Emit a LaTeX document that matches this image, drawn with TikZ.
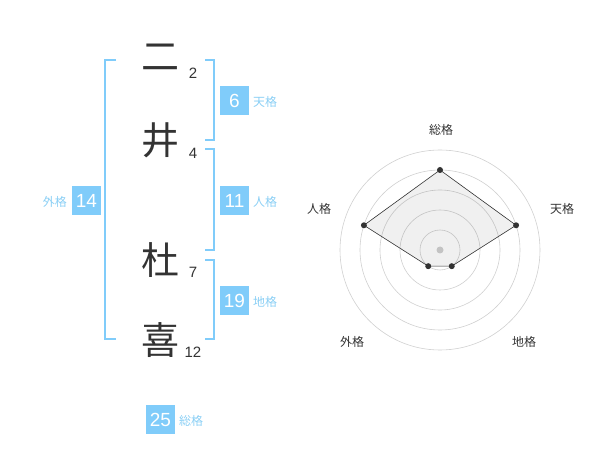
\documentclass[tikz,border=0pt]{standalone}
\usepackage{fontspec}
\setmainfont{Liberation Sans}
\newfontfamily\cjk{Noto Sans CJK JP}
\definecolor{boxblue}{HTML}{80CCFA}
\definecolor{lblblue}{HTML}{8ACFF5}
\definecolor{chardark}{HTML}{333333}
\definecolor{ringgray}{HTML}{D0D0D0}
\begin{document}
\begin{tikzpicture}[x=1pt,y=-1pt,
  bigchar/.style={font=\cjk\fontsize{38}{38}\selectfont, text=chardark, inner sep=0pt},
  strokenum/.style={font=\fontsize{15}{15}\selectfont, text=chardark, inner sep=0pt},
  numbox/.style={fill=boxblue, text=white, minimum width=29pt, minimum height=29pt, inner sep=0pt, font=\fontsize{19}{19}\selectfont},
  kaku/.style={font=\cjk\fontsize{12}{12}\selectfont, text=lblblue, inner sep=0pt},
  bracket/.style={draw=boxblue, line width=2pt},
  ring/.style={draw=ringgray, line width=0.6pt},
  radlbl/.style={font=\cjk\fontsize{12}{12}\selectfont, text=chardark, inner sep=0pt},
  dot/.style={circle, fill=chardark, minimum size=6pt, inner sep=0pt}]
\useasboundingbox (0,0) rectangle (600,470);
% characters
\node[bigchar] (c1) at (160,57) {二};
\node[bigchar] (c2) at (160,140) {井};
\node[bigchar] (c3) at (160,260) {杜};
\node[bigchar] (c4) at (160,340) {喜};
\node[strokenum] (n1) at (193,73) {2};
\node[strokenum] (n2) at (193,153) {4};
\node[strokenum] (n3) at (193,272) {7};
\node[strokenum] (n4) at (193,352) {12};
% brackets
\draw[bracket] (116,60) -- (105,60) -- (105,339.5) -- (116,339.5);
\draw[bracket] (205,60) -- (214,60) -- (214,140) -- (205,140);
\draw[bracket] (205,149.5) -- (214,149.5) -- (214,250) -- (205,250);
\draw[bracket] (205,260) -- (214,260) -- (214,339.5) -- (205,339.5);
% boxes
\node[numbox] (b6) at (234.5,100.5) {6};
\node[kaku, anchor=west] (l6) at (253,102) {天格};
\node[numbox] (b11) at (234.5,200.5) {11};
\node[kaku, anchor=west] (l11) at (253,202) {人格};
\node[numbox] (b19) at (234.5,300.5) {19};
\node[kaku, anchor=west] (l19) at (253,302) {地格};
\node[numbox] (b14) at (86.5,200.5) {14};
\node[kaku, anchor=east] (l14) at (67,202) {外格};
\node[numbox] (b25) at (160.5,419.5) {25};
\node[kaku, anchor=west] (l25) at (179,421) {総格};
% radar chart
\coordinate (ctr) at (440,250);
\foreach \r in {20,40,60,80,100} \draw[ring] (ctr) circle[radius=\r];
\fill[ringgray] (ctr) circle[radius=3.5];
\path (ctr) ++(0,-80) coordinate (p1);
\path (ctr) ++({80*cos(18)},{-80*sin(18)}) coordinate (p2);
\path (ctr) ++({20*cos(54)},{20*sin(54)}) coordinate (p3);
\path (ctr) ++({-20*cos(54)},{20*sin(54)}) coordinate (p4);
\path (ctr) ++({-80*cos(18)},{-80*sin(18)}) coordinate (p5);
\filldraw[fill=black, fill opacity=0.06, draw=chardark, line width=0.6pt] (p1) -- (p2) -- (p3) -- (p4) -- (p5) -- cycle;
\foreach \p in {p1,p2,p3,p4,p5} \node[dot] at (\p) {};
\node[radlbl] (r1) at (441,130) {総格};
\node[radlbl] (r2) at (562,209) {天格};
\node[radlbl] (r3) at (524,342) {地格};
\node[radlbl] (r4) at (352,342) {外格};
\node[radlbl] (r5) at (319,209) {人格};
\end{tikzpicture}
\end{document}
